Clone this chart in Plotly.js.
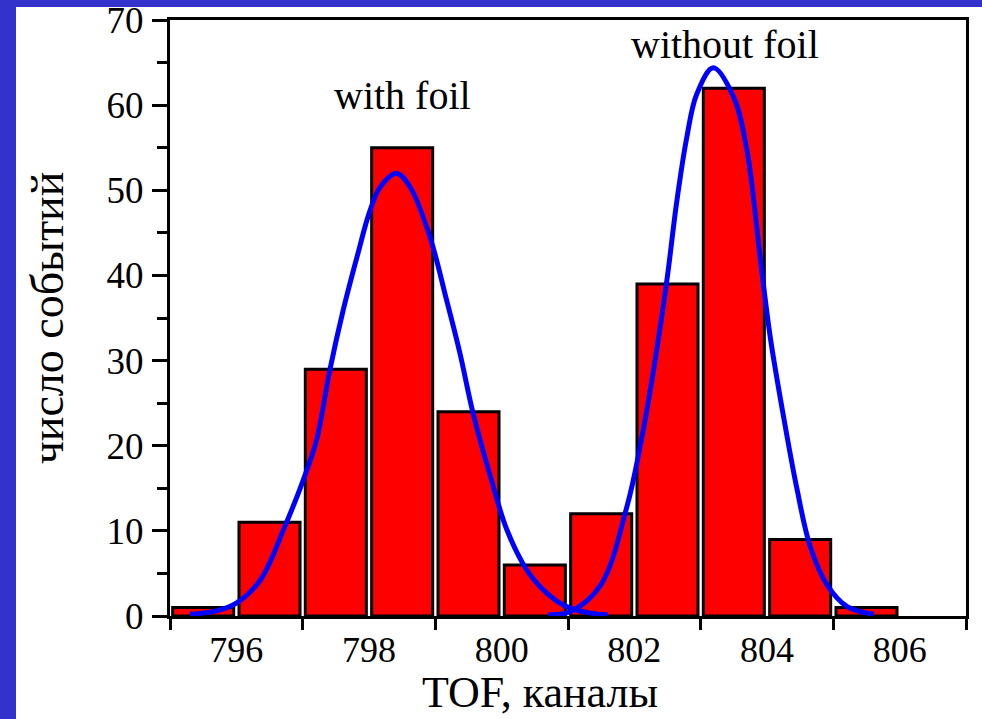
<!DOCTYPE html>
<html>
<head>
<meta charset="utf-8">
<script src="https://cdn.plot.ly/plotly-3.0.1.min.js"></script>
<style>
  html, body { margin: 0; padding: 0; background: #ffffff; overflow: hidden; }
  #chart { position: absolute; left: 0; top: 0; width: 982px; height: 719px; }
  .band { position: absolute; background: #3333cc; z-index: 10; }
</style>
</head>
<body>
<div id="chart"></div>
<div class="band" style="left:0;top:0;width:982px;height:7px;"></div>
<div class="band" style="left:0;top:0;width:16px;height:719px;"></div>
<script>
// Histogram bins (centres of channels) and counts
const binCenters = [795.5, 796.5, 797.5, 798.5, 799.5, 800.5, 801.5, 802.5, 803.5, 804.5, 805.5];
const counts     = [1, 11, 29, 55, 24, 6, 12, 39, 62, 9, 1];

// Gaussian fit "with foil"
const fit1X = [795.3, 795.7, 796.0, 796.36, 796.73, 797.01, 797.21, 797.41, 797.61, 797.82, 798.01, 798.17, 798.42, 798.62, 798.92, 799.17, 799.37, 799.57, 799.83, 800.08, 800.38, 800.68, 800.98, 801.3, 801.6];
const fit1Y = [0.2, 0.6, 1.5, 4.2, 10.5, 16.0, 20.7, 28.9, 35.9, 42.2, 47.5, 50.4, 52.0, 50.4, 44.5, 37.1, 30.9, 23.8, 16.4, 10.1, 5.4, 2.7, 1.1, 0.4, 0.15];

// Gaussian fit "without foil"
const fit2X = [800.7, 801.03, 801.49, 801.89, 802.09, 802.29, 802.49, 802.64, 802.79, 802.94, 803.19, 803.5, 803.7, 803.9, 804.05, 804.25, 804.45, 804.65, 804.91, 805.21, 805.61];
const fit2Y = [0.15, 0.5, 3.6, 12.9, 20.0, 28.9, 39.4, 48.7, 56.2, 61.3, 64.4, 60.9, 54.6, 41.9, 32.7, 23.4, 15.0, 8.2, 3.6, 1.1, 0.2];

const xLabelVals = [796, 798, 800, 802, 804, 806];
const xLabelText = ['796', '798', '800', '802', '804', '806'];
const yTickVals = [0, 10, 20, 30, 40, 50, 60, 70];
const yTickText = ['0', '10', '20', '30', '40', '50', '60', '70'];

const serif = 'Liberation Serif, Times New Roman, serif';

const traces = [
  {
    type: 'bar', x: binCenters, y: counts, width: 0.92,
    marker: { color: '#ff0000', line: { color: '#000000', width: 3 } },
    hoverinfo: 'x+y', showlegend: false
  },
  {
    type: 'scatter', mode: 'lines', x: fit1X, y: fit1Y,
    line: { color: '#0000ff', width: 5, shape: 'spline', smoothing: 1 },
    showlegend: false
  },
  {
    type: 'scatter', mode: 'lines', x: fit2X, y: fit2Y,
    line: { color: '#0000ff', width: 5, shape: 'spline', smoothing: 1 },
    showlegend: false
  }
];

const layout = {
  width: 982, height: 719,
  margin: { l: 170, r: 16, t: 20, b: 103 },
  paper_bgcolor: '#ffffff', plot_bgcolor: '#ffffff',
  font: { family: serif, color: '#000000' },
  showlegend: false,
  xaxis: {
    range: [795, 807], fixedrange: true,
    tickmode: 'array', tickvals: xLabelVals, ticktext: xLabelText,
    ticks: '', ticklabelstandoff: 0,
    tickfont: { family: serif, size: 36, color: '#000' },
    showgrid: false, zeroline: false,
    showline: true, linecolor: '#000', linewidth: 3, mirror: true,
    minor: { tickmode: 'linear', tick0: 795, dtick: 2, ticks: 'outside', ticklen: 11, tickwidth: 3, tickcolor: '#000', showgrid: false }
  },
  yaxis: {
    range: [0, 70.02], fixedrange: true,
    tickmode: 'array', tickvals: yTickVals, ticktext: yTickText,
    ticks: 'outside', ticklen: 15, tickwidth: 3, tickcolor: '#000',
    ticklabelstandoff: 1, ticklabeloverflow: 'allow',
    tickfont: { family: serif, size: 37, color: '#000' },
    showgrid: false, zeroline: false,
    showline: true, linecolor: '#000', linewidth: 3, mirror: true,
    minor: { tickmode: 'linear', tick0: 5, dtick: 10, ticks: 'outside', ticklen: 10, tickwidth: 3, tickcolor: '#000', showgrid: false },
    title: { text: 'число событий', font: { family: serif, size: 46, color: '#000' }, standoff: 29 }
  },
  annotations: [
    { x: 798.5, y: 61.2, xref: 'x', yref: 'y', text: 'with foil', showarrow: false,
      font: { family: serif, size: 40, color: '#000' } },
    { x: 803.37, y: 67.2, xref: 'x', yref: 'y', text: 'without foil', showarrow: false,
      font: { family: serif, size: 40, color: '#000' } },
    { x: 0.465, y: -0.128, xref: 'paper', yref: 'paper', xanchor: 'center', yanchor: 'middle',
      text: 'TOF, каналы', showarrow: false,
      font: { family: serif, size: 44, color: '#000' } }
  ]
};

Plotly.newPlot('chart', traces, layout, { displayModeBar: false, staticPlot: true });
</script>
</body>
</html>
